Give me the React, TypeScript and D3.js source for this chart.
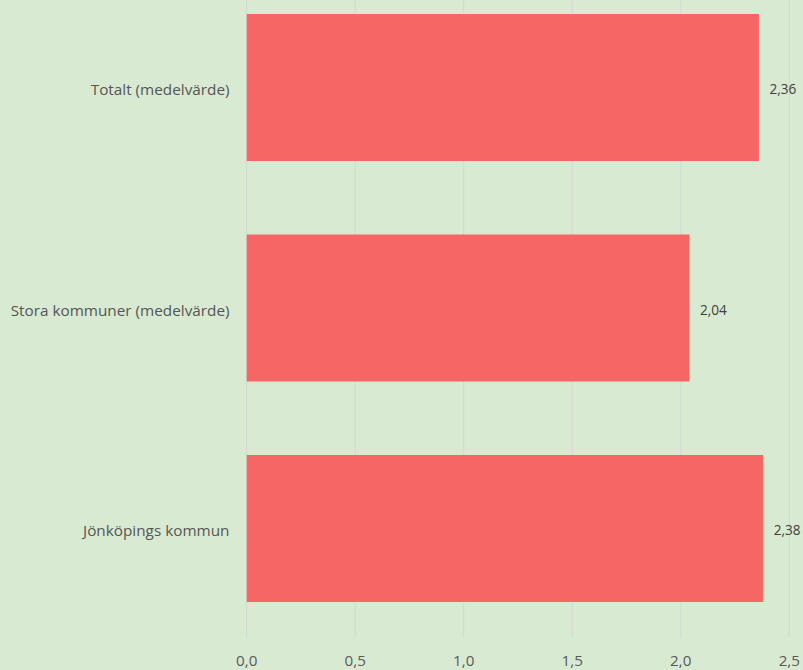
import React from "react";
import * as d3 from "d3";

const categories = ["Totalt (medelvärde)", "Stora kommuner (medelvärde)", "Jönköpings kommun"];
const values = [2.36, 2.04, 2.38];
const xTicks = [0, 0.5, 1.0, 1.5, 2.0, 2.5];

const W = 803;
const H = 670;
const fmt = (v: number, d: number) => v.toFixed(d).replace(".", ",");

export default function App() {
  const x = d3.scaleLinear().domain([0, 2.5]).range([246.7, 789.3]);
  const y = d3.scaleBand<string>().domain(categories).range([0, 616]).paddingInner(0.3333).paddingOuter(0.0635);
  const font = "'Open Sans', 'Segoe UI', sans-serif";
  return (
    <svg width={W} height={H} style={{ position: "absolute", left: 0, top: 0, display: "block" }}>
      <rect x={0} y={0} width={W} height={H} fill="#d9ead3" />
      {xTicks.map((t) => (
        <line key={"g" + t} x1={x(t)} x2={x(t)} y1={0} y2={638} stroke="#d3d8d1" strokeWidth={1} />
      ))}
      {categories.map((c, i) => (
        <rect key={c} x={x(0)} y={y(c)!} width={x(values[i]) - x(0)} height={y.bandwidth()} fill="#f56665" />
      ))}
      {categories.map((c, i) => (
        <text key={"v" + c} x={x(values[i]) + 10.5} y={y(c)! + y.bandwidth() / 2 + 2} dy="0.35em" fontSize={13.6} fontFamily={font} fill="#404040">
          {fmt(values[i], 2)}
        </text>
      ))}
      {categories.map((c) => (
        <text key={"l" + c} x={229.5} y={y(c)! + y.bandwidth() / 2 + 2.5} dy="0.35em" textAnchor="end" fontSize={15.3} fontFamily={font} fill="#555">
          {c}
        </text>
      ))}
      {xTicks.map((t) => (
        <text key={"t" + t} x={x(t)} y={661} dy="0.35em" textAnchor="middle" fontSize={15.2} fontFamily={font} fill="#595959">
          {fmt(t, 1)}
        </text>
      ))}
    </svg>
  );
}
